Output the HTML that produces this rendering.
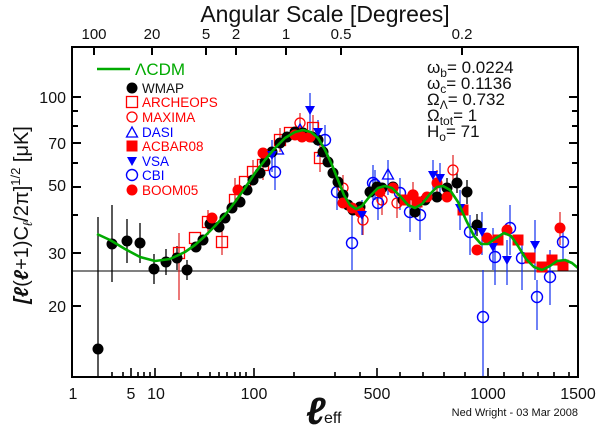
<!DOCTYPE html>
<html><head><meta charset="utf-8"><style>
html,body{margin:0;padding:0;background:#fff}
svg{display:block}
text{font-family:"Liberation Sans",sans-serif}
</style></head><body>
<svg width="601" height="430" viewBox="0 0 601 430" xmlns="http://www.w3.org/2000/svg">
<defs>
<circle id="wm" r="5.5" fill="#000"/>
<circle id="bf" r="5.5" fill="#f00"/>
<rect id="ar" x="-5.5" y="-5.5" width="11" height="11" fill="none" stroke="#f00" stroke-width="1.3"/>
<circle id="mx" r="5" fill="none" stroke="#f00" stroke-width="1.3"/>
<path id="da" d="M0,-6 L5.5,4 L-5.5,4 Z" fill="none" stroke="#00f" stroke-width="1.3"/>
<rect id="ac" x="-5.5" y="-5.5" width="11" height="11" fill="#f00"/>
<path id="vs" d="M-5,-4 L5,-4 L0,5 Z" fill="#00f"/>
<circle id="cb" r="5.5" fill="none" stroke="#00f" stroke-width="1.4"/>
</defs>

<!-- title -->
<text x="325" y="22" font-size="23" text-anchor="middle" fill="#111">Angular Scale [Degrees]</text>
<g font-size="15" text-anchor="middle" fill="#111">
<text x="94" y="39">100</text><text x="152" y="39">20</text><text x="206" y="39">5</text><text x="236" y="39">2</text><text x="286" y="39">1</text><text x="341" y="39">0.5</text><text x="462" y="39">0.2</text>
</g>

<!-- horizontal line -->
<line x1="72" y1="271" x2="578" y2="271" stroke="#000" stroke-width="1"/>

<!-- error bars -->
<path stroke="#000" stroke-width="1.3" fill="none" d="M98,217V377 M112,205V282 M127,219V263 M140,223V263 M154,254V284 M166,249V275 M177,246V270 M187,260V280 M447,178V198 M457,173V193 M467,180V204 M477,214V236"/>
<path stroke="#e02020" stroke-width="1.2" fill="none" d="M179,233V300 M208,210V235 M222,230V255 M253,160V185 M263,150V180 M280,128V152 M313,115V142 M320,145V172 M300,113V135 M343,175V202 M363,205V235 M453,155V185 M413,182V210 M382,185V215 M397,190V218 M560,212V245 M235,178V202 M437,170V197"/>
<path stroke="#1030f0" stroke-width="1.2" fill="none" d="M275,155V190 M310,93V130 M318,120V146 M272,140V172 M325,125V160 M337,175V210 M352,215V270 M362,200V235 M373,165V200 M378,188V220 M375,170V200 M400,178V210 M410,195V232 M420,198V240 M460,190V230 M470,215V255 M482,212V255 M493,228V270 M495,238V285 M507,240V285 M510,205V255 M522,240V290 M535,220V280 M537,280V330 M550,250V305 M563,225V262 M483,270V377 M388,160V195 M433,160V195 M440,163V195"/>

<!-- data points -->
<g>
<use href="#ar" x="179" y="253"/><use href="#ar" x="195" y="238"/><use href="#ar" x="208" y="222"/><use href="#ar" x="222" y="242"/><use href="#ar" x="235" y="200"/><use href="#ar" x="253" y="172"/><use href="#ar" x="263" y="165"/><use href="#ar" x="280" y="140"/><use href="#ar" x="313" y="128"/><use href="#ar" x="320" y="158"/><use href="#ar" x="290" y="133"/><use href="#ar" x="245" y="182"/>
<use href="#mx" x="300" y="123"/><use href="#mx" x="343" y="188"/><use href="#mx" x="363" y="220"/><use href="#mx" x="453" y="170"/><use href="#mx" x="413" y="195"/><use href="#mx" x="382" y="200"/><use href="#mx" x="397" y="203"/>
<use href="#cb" x="275" y="172"/><use href="#cb" x="325" y="140"/><use href="#cb" x="337" y="192"/><use href="#cb" x="352" y="243"/><use href="#cb" x="373" y="183"/><use href="#cb" x="378" y="203"/><use href="#cb" x="375" y="185"/><use href="#cb" x="400" y="193"/><use href="#cb" x="410" y="212"/><use href="#cb" x="420" y="215"/><use href="#cb" x="470" y="232"/><use href="#cb" x="495" y="257"/><use href="#cb" x="510" y="228"/><use href="#cb" x="522" y="258"/><use href="#cb" x="537" y="297"/><use href="#cb" x="550" y="277"/><use href="#cb" x="563" y="242"/><use href="#cb" x="483" y="317"/>
<use href="#da" x="388" y="175"/><use href="#da" x="323" y="152"/><use href="#da" x="300" y="130"/><use href="#da" x="278" y="150"/>
<!-- WMAP -->
<use href="#wm" x="98" y="349"/><use href="#wm" x="112" y="244"/><use href="#wm" x="127" y="241"/><use href="#wm" x="140" y="243"/><use href="#wm" x="154" y="269"/><use href="#wm" x="166" y="262"/><use href="#wm" x="177" y="258"/><use href="#wm" x="187" y="270"/>
<use href="#wm" x="196" y="247"/><use href="#wm" x="203" y="240"/><use href="#wm" x="210" y="224"/><use href="#wm" x="219" y="227"/><use href="#wm" x="225" y="218"/><use href="#wm" x="232" y="208"/><use href="#wm" x="240" y="202"/><use href="#wm" x="247" y="190"/><use href="#wm" x="253" y="180"/><use href="#wm" x="260" y="173"/><use href="#wm" x="265" y="162"/><use href="#wm" x="272" y="152"/><use href="#wm" x="280" y="143"/><use href="#wm" x="287" y="137"/><use href="#wm" x="295" y="132"/><use href="#wm" x="303" y="133"/><use href="#wm" x="312" y="137"/><use href="#wm" x="318" y="140"/><use href="#wm" x="323" y="152"/><use href="#wm" x="328" y="162"/><use href="#wm" x="333" y="173"/><use href="#wm" x="338" y="182"/><use href="#wm" x="343" y="195"/><use href="#wm" x="348" y="205"/><use href="#wm" x="353" y="210"/><use href="#wm" x="360" y="207"/><use href="#wm" x="370" y="192"/><use href="#wm" x="377" y="187"/><use href="#wm" x="382" y="188"/><use href="#wm" x="393" y="187"/><use href="#wm" x="403" y="200"/><use href="#wm" x="415" y="212"/><use href="#wm" x="425" y="200"/><use href="#wm" x="437" y="197"/><use href="#wm" x="447" y="188"/><use href="#wm" x="457" y="183"/><use href="#wm" x="467" y="192"/><use href="#wm" x="477" y="225"/>
<!-- BOOM05 / ACBAR -->
<use href="#bf" x="263" y="153"/><use href="#bf" x="238" y="190"/><use href="#bf" x="212" y="218"/><use href="#bf" x="302" y="137"/><use href="#bf" x="295" y="135"/><use href="#bf" x="343" y="203"/><use href="#bf" x="360" y="212"/><use href="#bf" x="413" y="195"/><use href="#bf" x="437" y="183"/><use href="#bf" x="447" y="197"/><use href="#bf" x="477" y="250"/><use href="#bf" x="487" y="238"/><use href="#bf" x="507" y="230"/><use href="#bf" x="560" y="228"/><use href="#bf" x="380" y="192"/><use href="#bf" x="393" y="188"/><use href="#bf" x="427" y="197"/><use href="#bf" x="352" y="208"/><use href="#bf" x="310" y="137"/>
<use href="#ac" x="518" y="240"/><use href="#ac" x="530" y="258"/><use href="#ac" x="542" y="267"/><use href="#ac" x="552" y="260"/><use href="#ac" x="563" y="265"/><use href="#ac" x="498" y="240"/><use href="#ac" x="417" y="202"/><use href="#ac" x="463" y="210"/><use href="#ac" x="405" y="200"/>
<use href="#vs" x="310" y="110"/><use href="#vs" x="318" y="132"/><use href="#vs" x="272" y="155"/><use href="#vs" x="362" y="215"/><use href="#vs" x="460" y="208"/><use href="#vs" x="482" y="232"/><use href="#vs" x="493" y="247"/><use href="#vs" x="507" y="260"/><use href="#vs" x="535" y="245"/><use href="#vs" x="440" y="178"/><use href="#vs" x="433" y="175"/>
</g>

<!-- model curve -->
<polyline fill="none" stroke="#0a0" stroke-width="2.6" stroke-linejoin="round" points="97,234 110,240 125,249 140,257 155,261 170,259 185,252 195,245 205,236 215,226 225,215 235,202 245,188 255,173 265,160 275,148 285,138 295,132 303,130 311,132 318,138 325,150 332,165 338,180 344,195 350,205 356,209 362,206 370,196 378,188 385,186 392,188 400,196 408,205 415,208 422,204 430,194 437,187 443,186 450,190 458,202 466,220 474,236 481,244 488,244 496,238 504,233 511,236 518,246 526,259 534,267 542,270 550,266 557,261 565,260 572,263 578,268"/>

<!-- frame -->
<rect x="72" y="47" width="506" height="330" fill="none" stroke="#000" stroke-width="2"/>
<!-- y ticks -->
<path stroke="#000" stroke-width="2" d="M72,97h9M72,111h6M72,126h6M72,143h9M72,163h6M72,187h9M72,215h6M72,253h9M72,306h9 M578,97h-9M578,111h-6M578,126h-6M578,143h-9M578,163h-6M578,187h-9M578,215h-6M578,253h-9M578,306h-9"/>
<!-- top ticks -->
<path stroke="#000" stroke-width="2" d="M94,47v8M152,47v8M206,47v8M236,47v8M286,47v8M341,47v8M462,47v8"/>
<!-- bottom ticks -->
<path stroke="#000" stroke-width="1.6" d="M112,377v-5M123,377v-5M131,377v-9M138,377v-5M144,377v-5M150,377v-5M155,377v-9M181,377v-5M198,377v-5M210,377v-5M219,377v-5M227,377v-5M235,377v-5M240,377v-5M246,377v-5M254,377v-9M294,377v-5M335,377v-5M360,377v-5M377,377v-9M400,377v-5M423,377v-5M444,377v-5M465,377v-5M488,377v-9M504,377v-5M523,377v-5M538,377v-5M554,377v-5M569,377v-5"/>

<g font-size="16" fill="#111" text-anchor="end">
<text x="66" y="103">100</text><text x="66" y="149">70</text><text x="66" y="191">50</text><text x="66" y="259">30</text><text x="66" y="312">20</text>
</g>
<g font-size="16" fill="#111" text-anchor="middle">
<text x="73" y="399">1</text><text x="131" y="399">5</text><text x="156" y="399">10</text><text x="254" y="399">100</text><text x="377" y="399">500</text><text x="488" y="399">1000</text><text x="578" y="399">1500</text>
</g>
<text x="306" y="424" font-size="38" font-style="italic" font-weight="bold" font-family="Liberation Serif,serif" fill="#111">ℓ</text>
<text x="324" y="423" font-size="16" fill="#111">eff</text>
<text x="578" y="416" font-size="11" text-anchor="end" fill="#111">Ned Wright - 03 Mar 2008</text>

<!-- y label -->
<text transform="translate(28,215) rotate(-90)" font-size="20" text-anchor="middle" fill="#111"><tspan font-style="italic" font-weight="bold">[ℓ</tspan>(<tspan font-style="italic" font-weight="bold">ℓ</tspan>+1)C<tspan font-size="13" dy="4" font-style="italic">ℓ</tspan><tspan dy="-4">/2π]</tspan><tspan font-size="13" dy="-8">1/2</tspan><tspan dy="8"> [μK]</tspan></text>

<!-- legend -->
<line x1="97" y1="69" x2="130" y2="69" stroke="#0a0" stroke-width="2.5"/>
<text x="135" y="75" font-size="17" fill="#0a0">ΛCDM</text>
<use href="#wm" x="132" y="88"/><use href="#ar" x="132" y="102"/><use href="#mx" x="132" y="117"/><use href="#da" x="132" y="133"/><use href="#ac" x="132" y="146"/><use href="#vs" x="132" y="161"/><use href="#cb" x="132" y="175"/><use href="#bf" x="132" y="190"/>
<g font-size="13.5">
<text x="142" y="93" fill="#111">WMAP</text>
<text x="142" y="107" fill="#f00">ARCHEOPS</text>
<text x="142" y="122" fill="#f00">MAXIMA</text>
<text x="142" y="137" fill="#00f">DASI</text>
<text x="142" y="151" fill="#f00">ACBAR08</text>
<text x="142" y="166" fill="#00f">VSA</text>
<text x="142" y="180" fill="#00f">CBI</text>
<text x="142" y="195" fill="#f00">BOOM05</text>
</g>

<!-- params -->
<g font-size="17" fill="#111">
<text x="427" y="73">ω<tspan font-size="12" dy="4">b</tspan><tspan dy="-4">= 0.0224</tspan></text>
<text x="427" y="89">ω<tspan font-size="12" dy="4">c</tspan><tspan dy="-4">= 0.1136</tspan></text>
<text x="427" y="105">Ω<tspan font-size="12" dy="4">Λ</tspan><tspan dy="-4">= 0.732</tspan></text>
<text x="427" y="121">Ω<tspan font-size="12" dy="4">tot</tspan><tspan dy="-4">= 1</tspan></text>
<text x="427" y="137">H<tspan font-size="12" dy="4">o</tspan><tspan dy="-4">= 71</tspan></text>
</g>
</svg>
</body></html>
